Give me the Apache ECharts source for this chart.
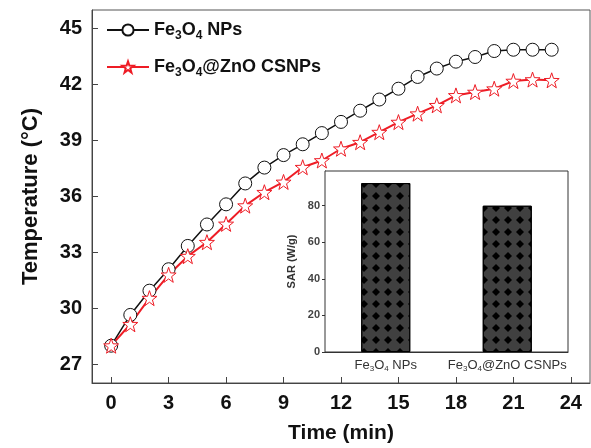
<!DOCTYPE html>
<html>
<head>
<meta charset="utf-8">
<script src="https://cdn.jsdelivr.net/npm/echarts@6/dist/echarts.min.js"></script>
<style>html,body{margin:0;padding:0;background:#fff}#c{width:591px;height:448px}</style>
</head>
<body>
<div id="c"></div>
<script>
// ---- data ----
var timeMin = [0,1,2,3,4,5,6,7,8,9,10,11,12,13,14,15,16,17,18,19,20,21,22,23];
var fe3o4NPs = [28.0,29.65,30.95,32.1,33.35,34.5,35.58,36.7,37.55,38.22,38.8,39.4,40.0,40.6,41.2,41.78,42.41,42.86,43.23,43.48,43.8,43.87,43.87,43.87];
var fe3o4ZnO = [28.0,29.15,30.55,31.8,32.8,33.55,34.53,35.51,36.23,36.78,37.57,37.93,38.56,38.91,39.45,39.99,40.44,40.89,41.42,41.6,41.78,42.19,42.27,42.23];
var xTicks = [0,3,6,9,12,15,18,21,24];
var yTicks = [27,30,33,36,39,42,45];
var sarCategories = ['Fe3O4 NPs','Fe3O4@ZnO CSNPs'];
var sarValues = [92.4, 80.0];
var sarTicks = [0,20,40,60,80];

var FONT = 'Liberation Sans, Arial, sans-serif';
var starPath = 'path://M0,-10L2.35,-3.24L9.51,-3.09L3.8,1.24L5.88,8.09L0,4L-5.88,8.09L-3.8,1.24L-9.51,-3.09L-2.35,-3.24Z';

function legendFmt(name) {
  var parts = name.split('Fe3O4');
  return '{b|Fe}{s|3}{b|O}{s|4}{b|' + parts[1] + '}';
}
function catFmt(name) {
  var parts = name.split('Fe3O4');
  return '{c|Fe}{t|3}{c|O}{t|4}{c|' + parts[1] + '}';
}

var chart = echarts.init(document.getElementById('c'), null, {renderer: 'canvas'});
var option = {
  backgroundColor: '#fff',
  animation: false,
  textStyle: {fontFamily: FONT},
  grid: [
    {left: 92, top: 10, width: 498, height: 373, show: true, borderColor: '#555', borderWidth: 1, backgroundColor: 'transparent', outerBoundsMode: 'none', containLabel: false},
    {left: 325, top: 171, width: 243, height: 181, show: true, borderColor: '#333', borderWidth: 1, backgroundColor: '#fff', z: 5, outerBoundsMode: 'none', containLabel: false}
  ],
  legend: {
    left: 101, top: 16, orient: 'vertical', itemWidth: 42, itemHeight: 14, itemGap: 16,
    data: ['Fe3O4 NPs', 'Fe3O4@ZnO CSNPs'],
    formatter: legendFmt,
    textStyle: {
      fontFamily: FONT, color: '#111',
      rich: {
        b: {fontSize: 18, fontWeight: 'bold', fontFamily: FONT, color: '#111'},
        s: {fontSize: 12, fontWeight: 'bold', fontFamily: FONT, color: '#111', padding: [12, 0, 0, 0]}
      }
    }
  },
  xAxis: [
    {gridIndex: 0, type: 'value', min: -1, max: 25,
     name: 'Time (min)', nameLocation: 'middle', nameGap: 40,
     nameTextStyle: {fontSize: 21, fontWeight: 'bold', color: '#111', fontFamily: FONT},
     axisLine: {show: true, onZero: false, lineStyle: {color: '#444', width: 1}},
     axisTick: {show: true, inside: true, length: 6, customValues: xTicks, lineStyle: {color: '#444'}},
     axisLabel: {customValues: xTicks, fontSize: 20, fontWeight: 'bold', color: '#111', margin: 10, fontFamily: FONT},
     splitLine: {show: false}},
    {gridIndex: 1, type: 'category', data: sarCategories,
     axisLine: {show: true, onZero: false, lineStyle: {color: '#333'}},
     axisTick: {show: false},
     axisLabel: {formatter: catFmt, margin: 5, interval: 0, hideOverlap: false, rich: {
        c: {fontSize: 13, color: '#333', fontFamily: FONT},
        t: {fontSize: 8, color: '#333', fontFamily: FONT, padding: [8, 0, 0, 0]}
     }},
     splitLine: {show: false}}
  ],
  yAxis: [
    {gridIndex: 0, type: 'value', min: 26, max: 46,
     name: 'Temperature (°C)', nameLocation: 'middle', nameGap: 50,
     nameTextStyle: {fontSize: 22, fontWeight: 'bold', color: '#111', fontFamily: FONT},
     axisLine: {show: true, onZero: false, lineStyle: {color: '#444', width: 1}},
     axisTick: {show: true, inside: true, length: 6, customValues: yTicks, lineStyle: {color: '#444'}},
     axisLabel: {customValues: yTicks, fontSize: 20, fontWeight: 'bold', color: '#111', margin: 10, fontFamily: FONT},
     splitLine: {show: false}},
    {gridIndex: 1, type: 'value', min: 0, max: 99,
     name: 'SAR (W/g)', nameLocation: 'middle', nameGap: 28,
     nameTextStyle: {fontSize: 11, fontWeight: 'bold', color: '#333', fontFamily: FONT},
     axisLine: {show: true, onZero: false, lineStyle: {color: '#333'}},
     axisTick: {show: true, length: 3, customValues: sarTicks, lineStyle: {color: '#333'}},
     axisLabel: {customValues: sarTicks, fontSize: 11, fontWeight: 'bold', color: '#444', margin: 5, fontFamily: FONT},
     splitLine: {show: false}}
  ],
  series: [
    {name: 'Fe3O4 NPs', type: 'line', xAxisIndex: 0, yAxisIndex: 0,
     data: timeMin.map(function(t, i){ return [t, fe3o4NPs[i]]; }),
     symbol: 'circle', symbolSize: 13,
     lineStyle: {color: '#111', width: 1.5},
     itemStyle: {color: '#fff', borderColor: '#111', borderWidth: 1},
     z: 3},
    {name: 'Fe3O4@ZnO CSNPs', type: 'line', xAxisIndex: 0, yAxisIndex: 0,
     data: timeMin.map(function(t, i){ return [t, fe3o4ZnO[i]]; }),
     symbol: starPath, symbolSize: 15,
     lineStyle: {color: '#ee1c25', width: 2},
     itemStyle: {color: '#fff', borderColor: '#ee1c25', borderWidth: 1},
     z: 3},
    {name: 'SAR', type: 'bar', xAxisIndex: 1, yAxisIndex: 1,
     data: sarValues, barWidth: 49, z: 6,
     itemStyle: {color: '#404040', borderColor: '#000', borderWidth: 1,
       decal: {symbol: 'diamond', symbolSize: 1, color: '#000',
               dashArrayX: [8, 4], dashArrayY: [8, 4], rotation: 0}}}
  ]
};
chart.setOption(option);
</script>
</body>
</html>
